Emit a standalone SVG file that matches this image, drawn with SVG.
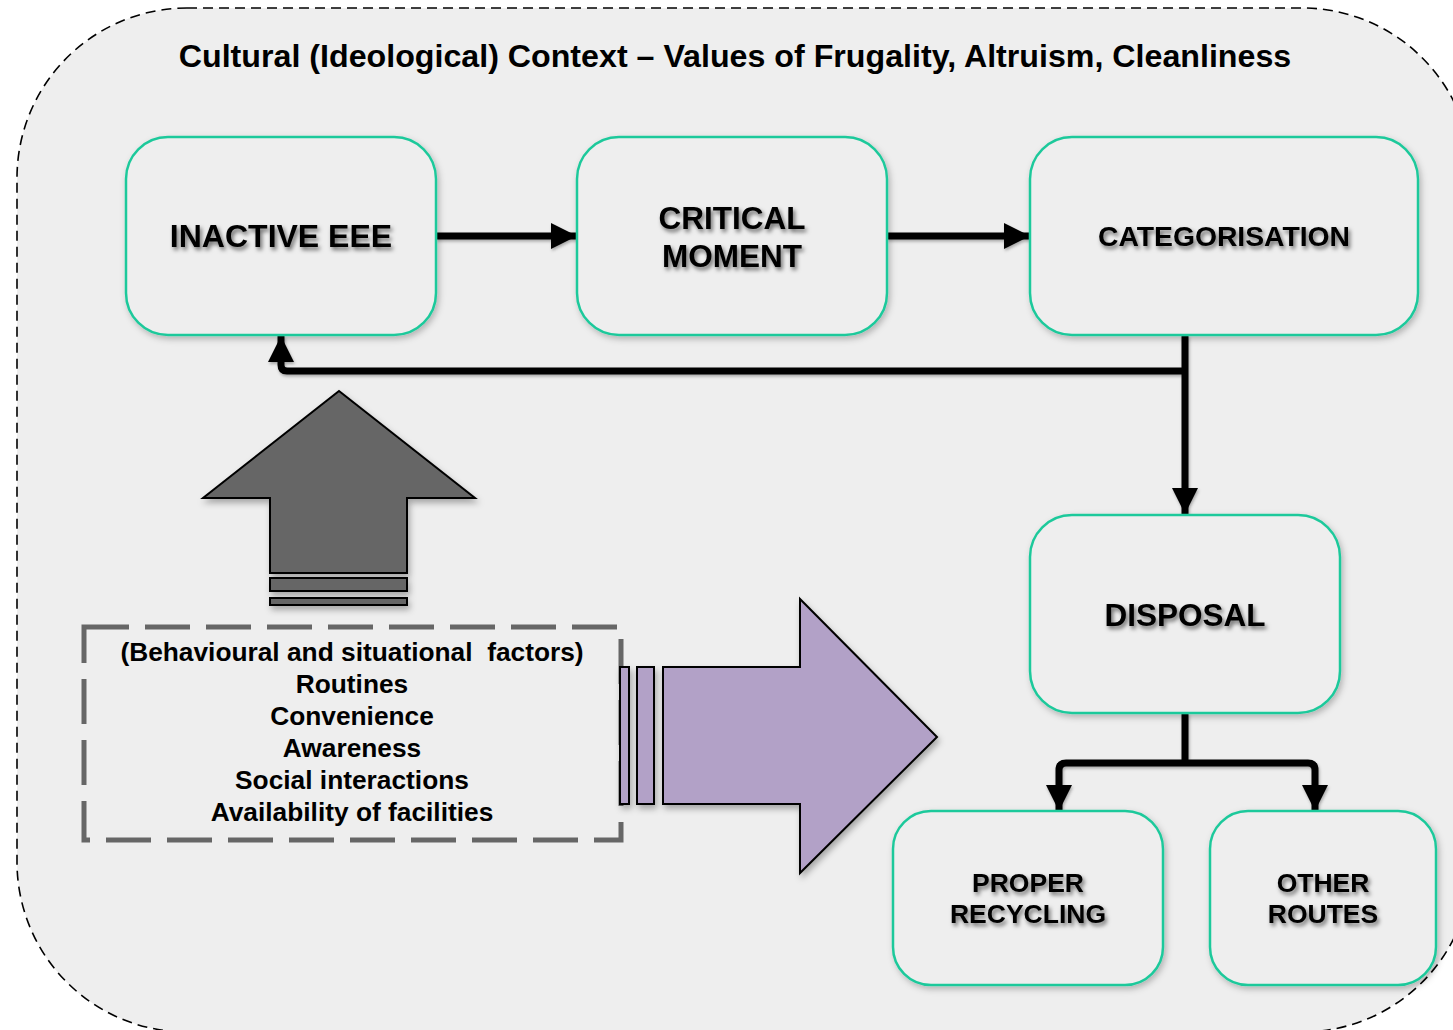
<svg xmlns="http://www.w3.org/2000/svg" width="1453" height="1030" viewBox="0 0 1453 1030">
<defs>
<style>
.node rect{fill:#eeeeee;stroke:#1ec99b;stroke-width:2.5;filter:url(#sh)}
.lbl{font-family:"Liberation Sans",Arial,sans-serif;font-weight:bold;fill:#000;text-anchor:middle;filter:url(#tsh)}
.conn{fill:none;stroke:#000;stroke-width:7;stroke-linejoin:round}
.ftxt{font-family:"Liberation Sans",Arial,sans-serif;font-weight:bold;font-size:26.3px;fill:#000;text-anchor:middle}
</style>
<filter id="sh" x="-10%" y="-10%" width="120%" height="130%">
<feDropShadow dx="2" dy="3" stdDeviation="3" flood-color="#000" flood-opacity="0.25"/>
</filter>
<filter id="tsh" x="-10%" y="-30%" width="120%" height="160%">
<feDropShadow dx="2" dy="3" stdDeviation="2" flood-color="#000" flood-opacity="0.55"/>
</filter>
<filter id="ash" x="-10%" y="-10%" width="130%" height="130%">
<feDropShadow dx="2" dy="4" stdDeviation="3" flood-color="#000" flood-opacity="0.3"/>
</filter>
<filter id="csh" x="-5%" y="-5%" width="110%" height="110%">
<feDropShadow dx="1" dy="2" stdDeviation="1.5" flood-color="#000" flood-opacity="0.3"/>
</filter>
<marker id="ah" markerUnits="userSpaceOnUse" markerWidth="26" markerHeight="26" viewBox="0 0 24 24" refX="24" refY="12" orient="auto">
<path d="M0,0 L24,12 L0,24 Z" fill="#000"/>
</marker>
</defs>
<rect x="0" y="0" width="1453" height="1030" fill="#ffffff"/>
<rect id="context" x="17" y="8" width="1455" height="1024" rx="170" ry="170" fill="#eeeeee" stroke="#000" stroke-width="1.6" stroke-dasharray="10 6"/>
<text x="735" y="67" font-family="Liberation Sans, Arial, sans-serif" font-weight="bold" font-size="32.2" text-anchor="middle" fill="#000">Cultural (Ideological) Context – Values of Frugality, Altruism, Cleanliness</text>

<g id="connectors" filter="url(#csh)">
<line class="conn" x1="436" y1="236" x2="577" y2="236" marker-end="url(#ah)"/>
<line class="conn" x1="887" y1="236" x2="1030" y2="236" marker-end="url(#ah)"/>
<path class="conn" d="M1185,371 L287,371 Q281,371 281,365 L281,336" marker-end="url(#ah)"/>
<line class="conn" x1="1185" y1="335" x2="1185" y2="514" marker-end="url(#ah)"/>
<line class="conn" x1="1185" y1="713" x2="1185" y2="764"/>
<path class="conn" d="M1185,763 L1066,763 Q1059,763 1059,770 L1059,811" marker-end="url(#ah)"/>
<path class="conn" d="M1185,763 L1308,763 Q1315,763 1315,770 L1315,811" marker-end="url(#ah)"/>
</g>

<g id="n-inactive" class="node">
<rect x="126" y="137" width="310" height="198" rx="42"/>
<text class="lbl" x="281" y="247" font-size="32">INACTIVE EEE</text>
</g>
<g id="n-critical" class="node">
<rect x="577" y="137" width="310" height="198" rx="42"/>
<text class="lbl" x="732" y="229" font-size="31.5">CRITICAL</text>
<text class="lbl" x="732" y="267" font-size="31.5">MOMENT</text>
</g>
<g id="n-categorisation" class="node">
<rect x="1030" y="137" width="388" height="198" rx="42"/>
<text class="lbl" x="1224" y="246" font-size="28.3">CATEGORISATION</text>
</g>
<g id="n-disposal" class="node">
<rect x="1030" y="515" width="310" height="198" rx="42"/>
<text class="lbl" x="1185" y="626" font-size="31.5">DISPOSAL</text>
</g>
<g id="n-proper" class="node">
<rect x="893" y="811" width="270" height="174" rx="38"/>
<text class="lbl" x="1028" y="892" font-size="26.5">PROPER</text>
<text class="lbl" x="1028" y="923" font-size="26.5">RECYCLING</text>
</g>
<g id="n-other" class="node">
<rect x="1210" y="811" width="226" height="174" rx="38"/>
<text class="lbl" x="1323" y="892" font-size="26.5">OTHER</text>
<text class="lbl" x="1323" y="923" font-size="26.5">ROUTES</text>
</g>

<g id="up-arrow" filter="url(#ash)" stroke="#000" stroke-width="2" fill="#666666">
<path d="M339,391 L475,498 L407,498 L407,573 L270,573 L270,498 L203,498 Z"/>
<rect x="270" y="578" width="137" height="13"/>
<rect x="270" y="598" width="137" height="7"/>
</g>

<g id="factors">
<rect x="84" y="627" width="537" height="213" fill="none" stroke="#666666" stroke-width="5" stroke-dasharray="45 16"/>
<text class="ftxt" x="352" y="661">(Behavioural and situational&#160; factors)</text>
<text class="ftxt" x="352" y="693">Routines</text>
<text class="ftxt" x="352" y="725">Convenience</text>
<text class="ftxt" x="352" y="757">Awareness</text>
<text class="ftxt" x="352" y="789">Social interactions</text>
<text class="ftxt" x="352" y="821">Availability of facilities</text>
</g>

<g id="right-arrow" filter="url(#ash)" stroke="#000" stroke-width="2" fill="#b2a1c7">
<path d="M663,667 L800,667 L800,599 L937,737 L800,873 L800,804 L663,804 Z"/>
<rect x="637" y="667" width="17" height="137"/>
<rect x="620" y="667" width="9" height="137"/>
</g>
</svg>
